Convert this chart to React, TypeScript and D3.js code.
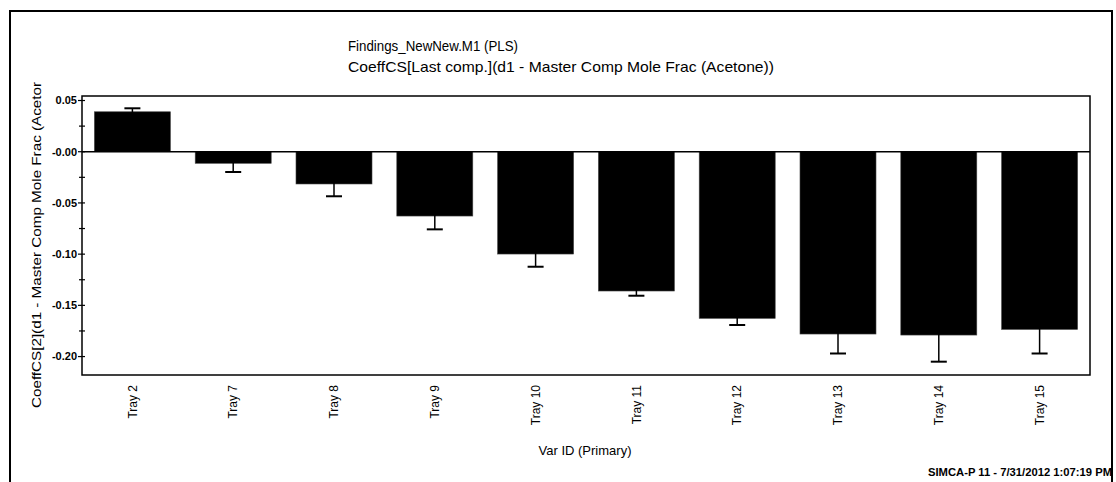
import React from 'react';
import * as d3 from 'd3';

const categories = ['Tray 2', 'Tray 7', 'Tray 8', 'Tray 9', 'Tray 10', 'Tray 11', 'Tray 12', 'Tray 13', 'Tray 14', 'Tray 15'];
const coefficients = [0.039, -0.0113, -0.0315, -0.0628, -0.0999, -0.136, -0.1627, -0.178, -0.179, -0.1735];
const errors = [0.0034, 0.0085, 0.012, 0.013, 0.0124, 0.0046, 0.0065, 0.019, 0.026, 0.0235];
const yTicks = [0.05, 0, -0.05, -0.1, -0.15, -0.2];
const yTickLabels = ['0.05', '-0.00', '-0.05', '-0.10', '-0.15', '-0.20'];
const yMinorTicks = [0.025, -0.025, -0.075, -0.125, -0.175];

const titleLine1 = 'Findings_NewNew.M1 (PLS)';
const titleLine2 = 'CoeffCS[Last comp.](d1 - Master Comp Mole Frac (Acetone))';
const yTitle = 'CoeffCS[2](d1 - Master Comp Mole Frac (Acetor';
const xTitle = 'Var ID (Primary)';
const footer = 'SIMCA-P 11 - 7/31/2012 1:07:19 PM';

const W = 1116;
const H = 482;
const plot = { left: 82, top: 96, right: 1090, bottom: 375 };
const font = '"Liberation Sans", Arial, sans-serif';

export default function App() {
  const x = d3.scaleBand<string>().domain(categories).range([plot.left, plot.right]).paddingInner(0.246).paddingOuter(0.123);
  const y = d3.scaleLinear().domain([0.0544, -0.218]).range([plot.top, plot.bottom]);
  const bw = x.bandwidth();
  const capW = 16;

  return (
    <svg width={W} height={H} style={{ position: 'absolute', left: 0, top: 0, background: '#fff' }} fontFamily={font}>
      <rect x={0} y={0} width={W} height={H} fill="#fff" />
      {/* outer frame */}
      <rect x={10} y={11} width={1102} height={490} fill="none" stroke="#000" strokeWidth={2} />

      {/* title */}
      <text x={348} y={51} fontSize={15} textLength={170} lengthAdjust="spacingAndGlyphs" fill="#000">{titleLine1}</text>
      <text x={348} y={72} fontSize={15} textLength={426} lengthAdjust="spacingAndGlyphs" fill="#000">{titleLine2}</text>

      {/* bars */}
      {categories.map((c, i) => {
        const v = coefficients[i];
        const y0 = y(0);
        const yv = y(v);
        return (
          <rect key={c} x={x(c)} y={Math.min(y0, yv)} width={bw} height={Math.abs(yv - y0)} fill="#000" stroke="#444" strokeWidth={0.6} />
        );
      })}

      {/* error bars */}
      {categories.map((c, i) => {
        const cx = (x(c) as number) + bw / 2;
        const v = coefficients[i];
        const e = errors[i];
        const y1 = y(v - e);
        const y2 = y(v + e);
        return (
          <g key={'e' + c} stroke="#000" strokeWidth={1.5}>
            <line x1={cx} x2={cx} y1={y1} y2={y2} />
            <line x1={cx - capW / 2} x2={cx + capW / 2} y1={y1} y2={y1} strokeWidth={2} />
            <line x1={cx - capW / 2} x2={cx + capW / 2} y1={y2} y2={y2} strokeWidth={2} />
          </g>
        );
      })}

      {/* zero line */}
      <line x1={plot.left} x2={plot.right} y1={y(0)} y2={y(0)} stroke="#000" strokeWidth={1.5} />

      {/* plot frame */}
      <rect x={plot.left} y={plot.top} width={plot.right - plot.left} height={plot.bottom - plot.top} fill="none" stroke="#000" strokeWidth={1.5} />

      {/* y ticks */}
      {yTicks.map((t, i) => (
        <g key={'yt' + i}>
          <line x1={plot.left - 4} x2={plot.left + 3} y1={y(t)} y2={y(t)} stroke="#000" strokeWidth={1.2} />
          <text x={77} y={y(t)} dy="0.35em" textAnchor="end" fontSize={11} fontWeight="bold" fill="#000">{yTickLabels[i]}</text>
        </g>
      ))}
      {yMinorTicks.map((t, i) => (
        <line key={'ym' + i} x1={plot.left - 3} x2={plot.left + 3} y1={y(t)} y2={y(t)} stroke="#000" strokeWidth={1.2} />
      ))}

      {/* y title */}
      <text transform={`translate(41, 408) rotate(-90)`} fontSize={12} textLength={326} lengthAdjust="spacingAndGlyphs" fill="#000">{yTitle}</text>

      {/* x labels */}
      {categories.map((c) => {
        const cx = (x(c) as number) + bw / 2;
        return (
          <text key={'xl' + c} transform={`translate(${cx}, 385) rotate(-90)`} dy="0.35em" textAnchor="end" fontSize={12} fill="#000">{c}</text>
        );
      })}

      {/* x title */}
      <text x={585} y={455} textAnchor="middle" fontSize={13} fill="#000">{xTitle}</text>

      {/* footer */}
      <text x={1112} y={476} textAnchor="end" fontSize={10} fontWeight="bold" textLength={184} lengthAdjust="spacingAndGlyphs" fill="#000">{footer}</text>
    </svg>
  );
}
